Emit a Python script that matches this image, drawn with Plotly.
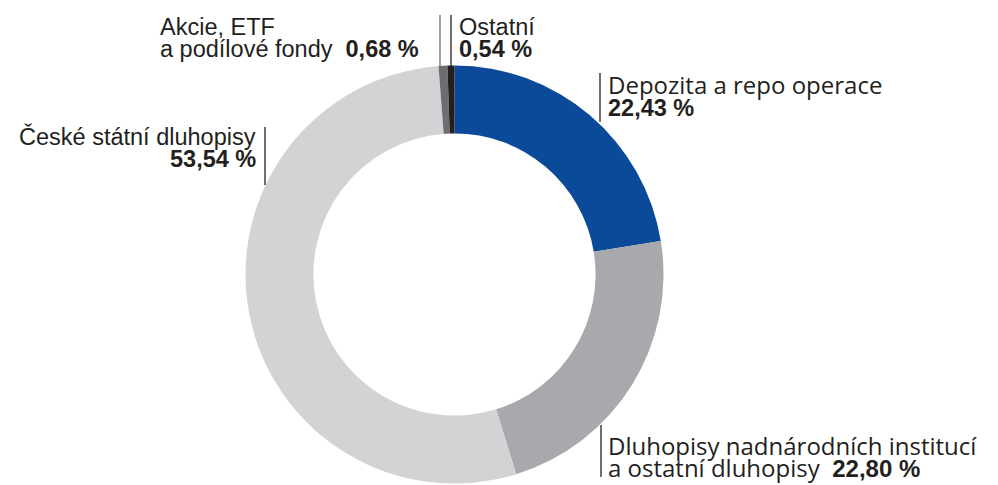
import plotly.graph_objects as go

categories = ["Depozita a repo operace",
              "Dluhopisy nadnárodních institucí a ostatní dluhopisy",
              "České státní dluhopisy",
              "Akcie, ETF a podílové fondy",
              "Ostatní"]
values = [22.43, 22.80, 53.54, 0.68, 0.54]
value_labels = ["22,43 %", "22,80 %", "53,54 %", "0,68 %", "0,54 %"]
colors = ["#0b4a99", "#a7a9ac", "#d1d3d4", "#6d6e71", "#231f20"]

W, H = 998, 485
def px(x): return x / W
def py(y): return 1 - y / H

cx, cy, r = 454.5, 274.5, 209
fig = go.Figure(go.Pie(
    labels=categories, values=values, sort=False, direction="clockwise",
    rotation=0, hole=0.675, marker=dict(colors=colors, line=dict(width=0)),
    textinfo="none", hoverinfo="label+percent", showlegend=False,
    domain=dict(x=[px(cx - r), px(cx + r)], y=[py(cy + r), py(cy - r)]),
))

ARIAL = "Liberation Sans, Arial, sans-serif"
GOTH = "Open Sans, sans-serif"
AS, GS = 23.5, 24
bold = lambda s: f"<b>{s}</b>"

# (text, x, baseline y, xanchor, family)
rows = [
    ("Akcie, ETF", 158, 35, "left", ARIAL),
    ("a podílové fondy  " + bold(value_labels[3]), 158, 57, "left", ARIAL),
    ("Ostatní", 457, 35, "left", ARIAL),
    (bold(value_labels[4]), 457, 57, "left", ARIAL),
    ("Depozita a repo operace", 606, 93, "left", GOTH),
    (bold(value_labels[0]), 606, 116, "left", ARIAL),
    ("České státní dluhopisy", 258, 145, "right", ARIAL),
    (bold(value_labels[2]), 258, 167, "right", ARIAL),
    ("Dluhopisy nadnárodních institucí", 606, 454, "left", GOTH),
    ("a ostatní dluhopisy  " + f'<span style="font-family:{ARIAL}"><b>{value_labels[1]}</b></span>',
     606, 476, "left", GOTH),
]
annotations = []
for t, x, yb, xa, fam in rows:
    size = AS if fam == ARIAL else GS
    annotations.append(dict(text=t, x=px(x), y=py(yb - 0.36 * size), xref="paper", yref="paper",
                            xanchor=xa, yanchor="middle", align=xa, showarrow=False,
                            font=dict(family=fam, size=size, color="#231f20")))

lines = [(440, 15, 68, "#6d6e71"), (451, 15, 68, "#231f20"), (600, 73, 122, "#231f20"),
         (265, 127, 185, "#231f20"), (601, 425, 477, "#231f20")]
shapes = [dict(type="line", xref="paper", yref="paper", x0=px(x), x1=px(x), y0=py(y0), y1=py(y1),
               line=dict(color=c, width=1.3)) for x, y0, y1, c in lines]

fig.update_layout(width=W, height=H, margin=dict(l=0, r=0, t=0, b=0),
                  paper_bgcolor="white", plot_bgcolor="white",
                  annotations=annotations, shapes=shapes)
fig.write_html("out.html", config={"displayModeBar": False},
               post_script="document.body.style.margin='0';document.body.style.overflow='hidden';")
